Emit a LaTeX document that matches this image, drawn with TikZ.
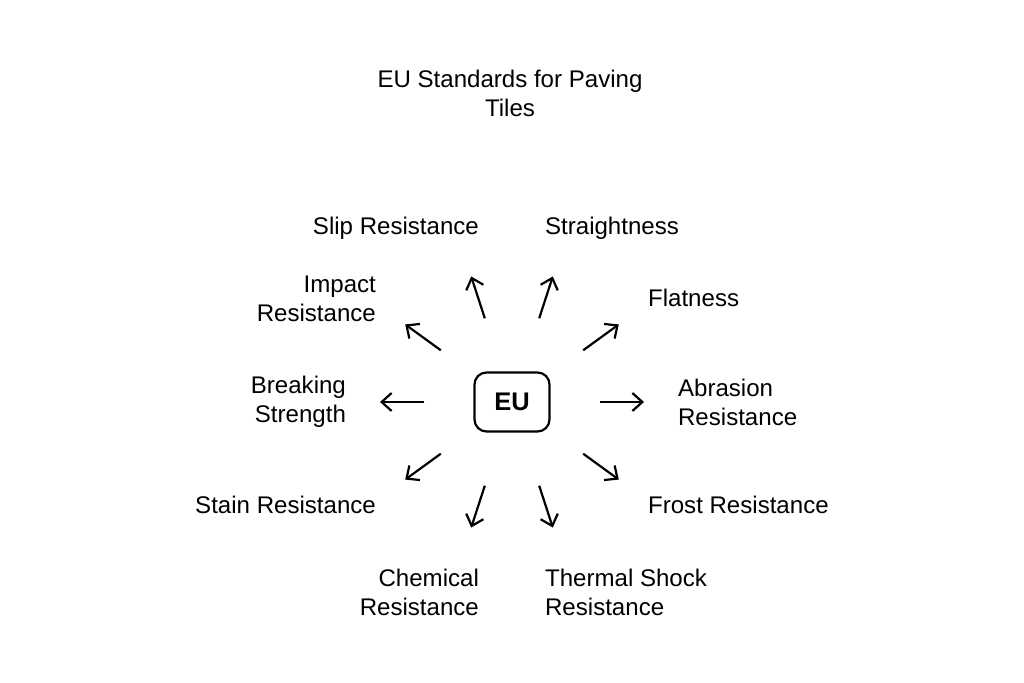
\documentclass[tikz,border=0pt]{standalone}
\usepackage{fontspec}
\setmainfont{Liberation Sans}
\usetikzlibrary{arrows.meta}

\begin{document}
\begin{tikzpicture}[line width=0.044cm,
	every node/.style={inner sep=0pt, font=\fontsize{13.7}{16.5}\selectfont},
	lefttext/.style={anchor=east, align=right},
	righttext/.style={anchor=west, align=left},
	ray/.style={-{Straight Barb[length=2mm,width=3.6mm]}}]
	\useasboundingbox (0,0) rectangle (20.48,13.64);
	
	\node[align=center] (title) at (10.2,11.78) {EU Standards for Paving\\Tiles};
	
	\node[draw, rounded corners=0.24cm, minimum width=1.5cm, minimum height=1.18cm, font=\fontsize{14.5}{16.5}\selectfont\bfseries] (eu) at (10.24,5.6) {EU};
	
	\node[lefttext] (slip) at (9.6,9.08) {Slip Resistance};
	\node[righttext] (straight) at (10.88,9.08) {Straightness};
	\node[lefttext] (impact) at (7.54,7.66) {Impact\\Resistance};
	\node[righttext] (flat) at (12.94,7.68) {Flatness};
	\node[lefttext] (breaking) at (6.94,5.6) {Breaking\\Strength};
	\node[righttext] (abrasion) at (13.54,5.6) {Abrasion\\Resistance};
	\node[lefttext] (stain) at (7.54,3.54) {Stain Resistance};
	\node[righttext] (frost) at (12.94,3.54) {Frost Resistance};
	\node[lefttext] (chemical) at (9.6,1.8) {Chemical\\Resistance};
	\node[righttext] (thermal) at (10.88,1.8) {Thermal Shock\\Resistance};
	
	\draw[ray] ([shift={(0:1.76)}]eu.center) -- ([shift={(0:2.64)}]eu.center);
	\draw[ray] ([shift={(36:1.76)}]eu.center) -- ([shift={(36:2.64)}]eu.center);
	\draw[ray] ([shift={(72:1.76)}]eu.center) -- ([shift={(72:2.64)}]eu.center);
	\draw[ray] ([shift={(108:1.76)}]eu.center) -- ([shift={(108:2.64)}]eu.center);
	\draw[ray] ([shift={(144:1.76)}]eu.center) -- ([shift={(144:2.64)}]eu.center);
	\draw[ray] ([shift={(180:1.76)}]eu.center) -- ([shift={(180:2.64)}]eu.center);
	\draw[ray] ([shift={(216:1.76)}]eu.center) -- ([shift={(216:2.64)}]eu.center);
	\draw[ray] ([shift={(252:1.76)}]eu.center) -- ([shift={(252:2.64)}]eu.center);
	\draw[ray] ([shift={(288:1.76)}]eu.center) -- ([shift={(288:2.64)}]eu.center);
	\draw[ray] ([shift={(324:1.76)}]eu.center) -- ([shift={(324:2.64)}]eu.center);
	
\end{tikzpicture}
\end{document}
